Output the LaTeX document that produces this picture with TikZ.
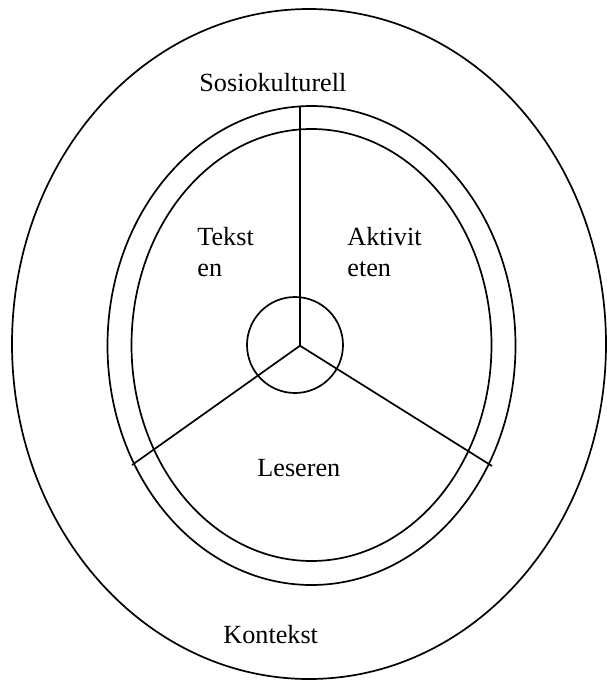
\documentclass[tikz,border=0pt]{standalone}
\usepackage{fontspec}
\setmainfont{Liberation Serif}
\begin{document}
\begin{tikzpicture}[x=0.5pt,y=-0.5pt,
  ring/.style={draw=black,line width=0.85pt},
  lbl/.style={inner sep=0pt,anchor=base west,font=\fontsize{13.1pt}{15.5pt}\selectfont}]
\useasboundingbox (0,0) rectangle (606,680);
% rings
\draw[ring] (309,344) ellipse [x radius=148.5pt, y radius=167.5pt];
\draw[ring] (311.5,345.5) ellipse [x radius=102pt, y radius=119.75pt];
\draw[ring] (311.5,345) ellipse [x radius=90pt, y radius=108pt];
\draw[ring] (295,345) circle [radius=24pt];
% spokes
\coordinate (hub) at (300,345.7);
\coordinate (sTop) at (300,106);
\coordinate (sLeft) at (132,465);
\coordinate (sRight) at (492,466);
\draw[ring] (hub) -- (sTop);
\draw[ring] (hub) -- (sLeft);
\draw[ring] (hub) -- (sRight);
% labels
\node[lbl] (sosio) at (199,91) {Sosiokulturell};
\node[lbl] (tekst1) at (197,245) {Tekst};
\node[lbl] (tekst2) at (197,276) {en};
\node[lbl] (akt1) at (347,245) {Aktivit};
\node[lbl] (akt2) at (347,276) {eten};
\node[lbl] (leser) at (257,476) {Leseren};
\node[lbl] (kontekst) at (223,643) {Kontekst};
\end{tikzpicture}
\end{document}
